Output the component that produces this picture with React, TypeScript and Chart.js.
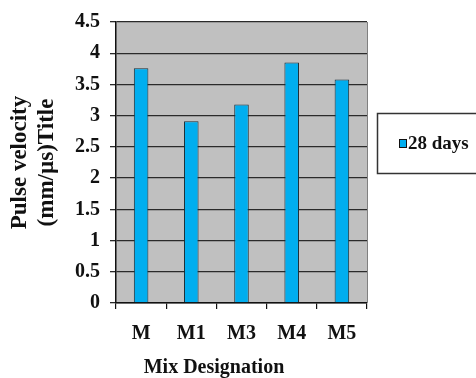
import React, { useEffect, useRef } from "react";
import { Chart, registerables } from "chart.js";

Chart.register(...registerables);

const categories = ["M", "M1", "M3", "M4", "M5"];
const values28Days = [3.76, 2.91, 3.18, 3.85, 3.58];
const seriesLabel = "28 days";
const yTitleLines = ["Pulse velocity", "(mm/µs)Title"];
const xTitle = "Mix Designation";

const FONT = "'Liberation Serif', 'Times New Roman', serif";
const BAR = "#00AEEF";

const decorPlugin = {
  id: "decor",
  beforeDraw(chart: any) {
    const { ctx, chartArea } = chart;
    ctx.save();
    ctx.fillStyle = "#ffffff";
    ctx.fillRect(0, 0, chart.width, chart.height);
    ctx.fillStyle = "#C0C0C0";
    ctx.fillRect(chartArea.left, chartArea.top, chartArea.right - chartArea.left, chartArea.bottom - chartArea.top);
    ctx.restore();
  },
  afterDraw(chart: any) {
    const { ctx, chartArea } = chart;
    ctx.save();
    // right border of plot
    ctx.strokeStyle = "#808080";
    ctx.lineWidth = 1;
    ctx.beginPath();
    ctx.moveTo(chartArea.right + 0.5, chartArea.top);
    ctx.lineTo(chartArea.right + 0.5, chartArea.bottom);
    ctx.stroke();
    // x title
    ctx.fillStyle = "#111";
    ctx.font = `bold 20px ${FONT}`;
    ctx.textAlign = "center";
    ctx.textBaseline = "middle";
    ctx.fillText(xTitle, 214, 368);
    // legend
    const lx = 377, ly = 113, lw = 110, lh = 60;
    ctx.fillStyle = "#ffffff";
    ctx.fillRect(lx, ly, lw, lh);
    ctx.strokeStyle = "#333";
    ctx.lineWidth = 1.5;
    ctx.strokeRect(lx + 0.5, ly + 0.5, lw, lh);
    ctx.fillStyle = BAR;
    ctx.fillRect(399, 139, 8, 9);
    ctx.strokeStyle = "#111";
    ctx.lineWidth = 1;
    ctx.strokeRect(399.5, 139.5, 7, 8);
    ctx.fillStyle = "#111";
    ctx.font = `bold 19px ${FONT}`;
    ctx.textAlign = "left";
    ctx.textBaseline = "middle";
    ctx.fillText(seriesLabel, 408, 144);
    ctx.restore();
  },
};

export default function App() {
  const ref = useRef<HTMLCanvasElement>(null);
  useEffect(() => {
    document.body.style.margin = "0";
    const chart = new Chart(ref.current as HTMLCanvasElement, {
      type: "bar",
      data: {
        labels: categories,
        datasets: [
          {
            label: seriesLabel,
            data: values28Days,
            backgroundColor: BAR,
            borderColor: "#1b2f38",
            borderWidth: 1,
            barPercentage: 0.29,
            categoryPercentage: 1,
          },
        ],
      },
      options: {
        animation: false,
        responsive: false,
        maintainAspectRatio: false,
        layout: { padding: { top: 18, right: 109, left: 0, bottom: 0 } },
        plugins: { legend: { display: false }, tooltip: { enabled: false } },
        scales: {
          x: {
            afterFit: (s: any) => {
              s.height = 75;
            },
            grid: { drawOnChartArea: false, drawTicks: true, tickLength: 6, color: "#111", lineWidth: 1.2 },
            border: { color: "#111", width: 1.5 },
            ticks: { color: "#111", padding: 13, font: { family: FONT, size: 20, weight: "bold" } },
          },
          y: {
            min: 0,
            max: 4.5,
            afterFit: (s: any) => {
              s.width = 116;
            },
            ticks: {
              stepSize: 0.5,
              color: "#111",
              padding: 10,
              font: { family: FONT, size: 20, weight: "bold" },
              callback: (v: any) => String(v),
            },
            grid: { color: "#2a2a2a", lineWidth: 1.3, tickLength: 6 },
            border: { color: "#111", width: 1.5 },
            title: {
              display: true,
              text: yTitleLines,
              color: "#111",
              font: { family: FONT, size: 23, weight: "bold", lineHeight: 1.2 },
              padding: { top: 6, bottom: 0 },
            },
          },
        },
      },
      plugins: [decorPlugin],
    });
    return () => chart.destroy();
  }, []);
  return (
    <div style={{ width: 476, height: 378 }}>
      <canvas ref={ref} width={476} height={378} style={{ display: "block" }} />
    </div>
  );
}
